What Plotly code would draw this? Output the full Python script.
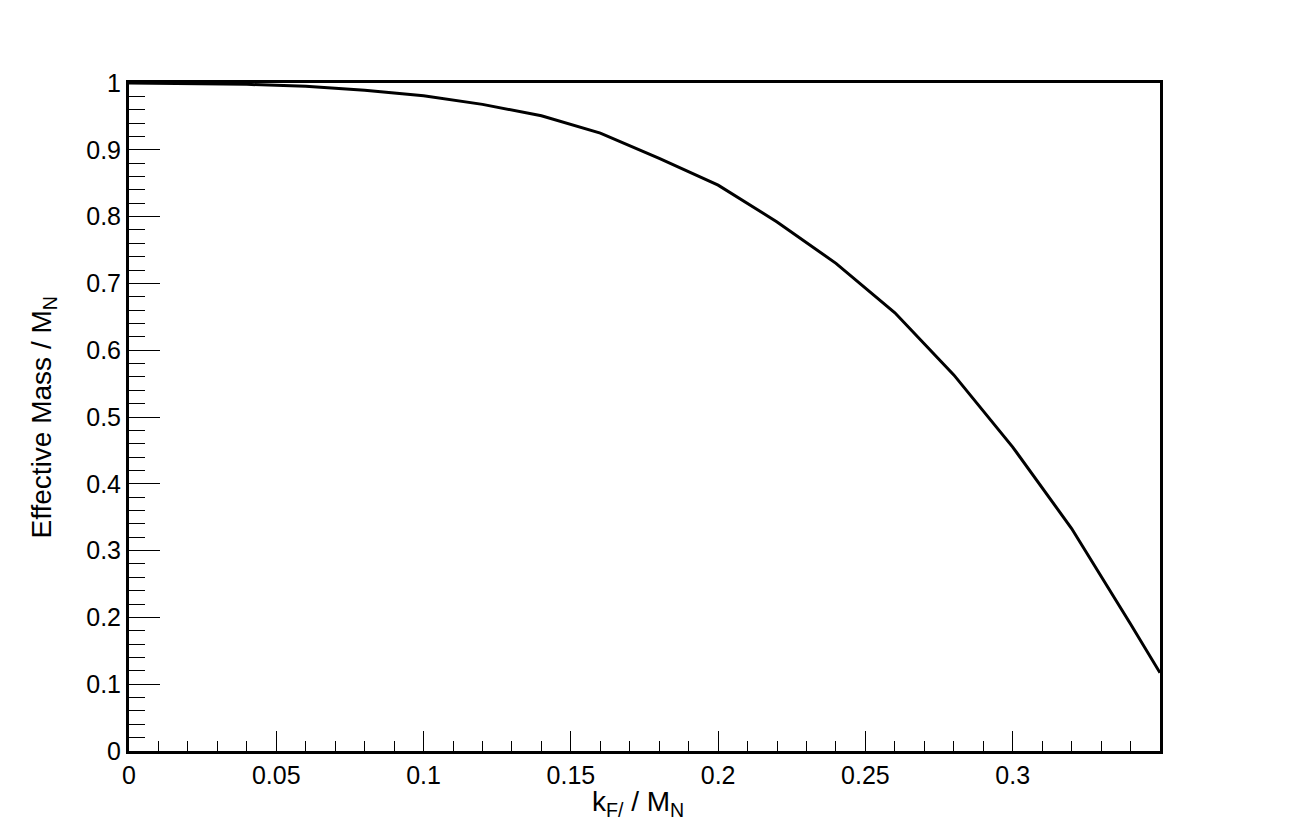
import plotly.graph_objects as go

kf_over_mn = [0.0, 0.02, 0.04, 0.06, 0.08, 0.10, 0.12, 0.14, 0.16, 0.18,
              0.20, 0.22, 0.24, 0.26, 0.28, 0.30, 0.32, 0.34, 0.35]
eff_mass = [1.0, 0.9995, 0.998, 0.995, 0.989, 0.981, 0.968, 0.951, 0.925, 0.887,
            0.847, 0.792, 0.730, 0.656, 0.563, 0.455, 0.333, 0.190, 0.117]

x_ticks = [0, 0.05, 0.1, 0.15, 0.2, 0.25, 0.3]
x_tick_labels = ["0", "0.05", "0.1", "0.15", "0.2", "0.25", "0.3"]
y_ticks = [0, 0.1, 0.2, 0.3, 0.4, 0.5, 0.6, 0.7, 0.8, 0.9, 1.0]
y_tick_labels = ["0", "0.1", "0.2", "0.3", "0.4", "0.5", "0.6", "0.7", "0.8", "0.9", "1"]

x_title = "k<sub>F/</sub> / M<sub>N</sub>"
y_title = "Effective Mass / M<sub>N</sub>"

fig = go.Figure()
fig.add_trace(go.Scatter(x=kf_over_mn, y=eff_mass, mode="lines",
                         line=dict(color="black", width=3), showlegend=False))

fam = "Liberation Sans, Arial, sans-serif"
tick_font = dict(family=fam, size=25, color="black")
title_font = dict(family=fam, size=28, color="black")

fig.update_layout(
    width=1281, height=827,
    margin=dict(l=121, r=129, t=75, b=84, autoexpand=False),
    paper_bgcolor="white", plot_bgcolor="white",
    font=tick_font,
    xaxis=dict(
        range=[0, 0.35], tickvals=x_ticks, ticktext=x_tick_labels,
        ticks="inside", ticklen=20, tickwidth=1, tickcolor="black",
        minor=dict(dtick=0.01, tick0=0, ticks="inside", ticklen=10, tickwidth=1, tickcolor="black"),
        showline=True, linewidth=3, linecolor="black", mirror=True,
        showgrid=False, zeroline=False, automargin=False, tickfont=tick_font,
    ),
    yaxis=dict(
        range=[0, 1], tickvals=y_ticks, ticktext=y_tick_labels,
        ticks="inside", ticklen=31, tickwidth=1, tickcolor="black",
        minor=dict(dtick=0.02, tick0=0, ticks="inside", ticklen=16, tickwidth=1, tickcolor="black"),
        showline=True, linewidth=3, linecolor="black", mirror=True,
        showgrid=False, zeroline=False, automargin=False, tickfont=tick_font,
    ),
    annotations=[
        dict(text=x_title, xref="paper", yref="paper", x=0.494, y=-0.079,
             xanchor="center", yanchor="middle", showarrow=False, font=title_font),
        dict(text=y_title, xref="paper", yref="paper", x=-0.083, y=0.5,
             xanchor="center", yanchor="middle", textangle=-90, showarrow=False, font=title_font),
    ],
)

fig.write_html("out.html")
